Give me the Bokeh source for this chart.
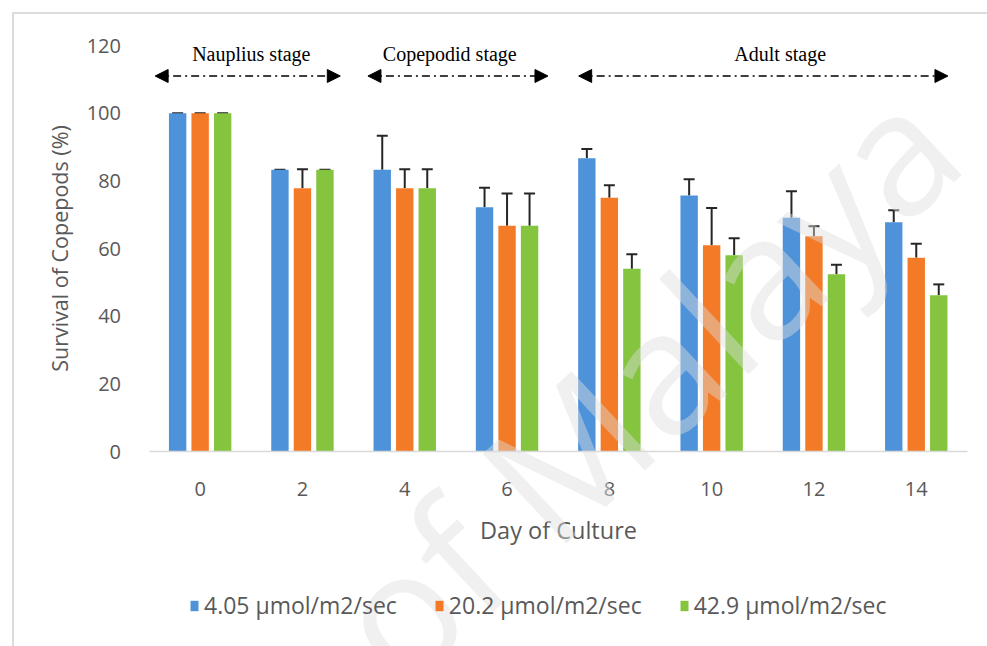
from bokeh.plotting import figure
from bokeh.models import (ColumnDataSource, FixedTicker, Legend, LegendItem, Whisker,
                          TeeHead, Arrow, NormalHead, Label)
from bokeh.core.properties import value
from bokeh.embed import file_html
from bokeh.resources import INLINE

# Survival of copepods (%) per culture day under three light intensities
days = [0, 2, 4, 6, 8, 10, 12, 14]
series_names = ["4.05 µmol/m2/sec", "20.2 µmol/m2/sec", "42.9 µmol/m2/sec"]
survival_low = [100, 83.3, 83.3, 72.2, 86.7, 75.7, 69.1, 67.8]
survival_mid = [100, 77.8, 77.8, 66.7, 75.0, 61.0, 63.6, 57.3]
survival_high = [100, 83.3, 77.8, 66.7, 54.0, 58.0, 52.4, 46.2]
error_low = [0, 0, 10.0, 5.8, 2.7, 4.8, 7.8, 3.5]
error_mid = [0, 5.6, 5.6, 9.6, 3.7, 11.0, 3.0, 4.1]
error_high = [0, 0, 5.6, 9.6, 4.3, 5.0, 2.8, 3.2]
colors = ["#4E93DA", "#F37A26", "#84C43E"]
y_ticks = [0, 20, 40, 60, 80, 100, 120]

# Developmental stages spanning the culture days (category positions)
stage_names = ["Nauplius stage", "Copepodid stage", "Adult stage"]
stage_label_x = [0.50, 2.44, 5.67]
stage_start = [-0.44, 1.64, 3.70]
stage_end = [1.37, 3.40, 7.31]

# The plot frame fills the whole canvas; both axes are pinned at fixed
# locations so the legend and the watermark can share the same space.
W, H = 973, 632
cat_px = 102.3           # pixels per day category
val_px = 3.383           # pixels per survival percent
left_px, base_px = 134.5, 437   # canvas position of category start / zero line
x_lo = -0.5 - left_px / cat_px
x_hi = x_lo + W / cat_px
y_lo = -(H - base_px) / val_px
y_hi = y_lo + H / val_px

p = figure(frame_width=W, frame_height=H, x_range=(x_lo, x_hi), y_range=(y_lo, y_hi),
           output_backend="svg", toolbar_location=None, title=None,
           min_border=0)
p.margin = (12, 0, 0, 12)
p.styles = {"border-top": "2px solid #dcdcdc", "border-left": "2px solid #dcdcdc"}
p.outline_line_color = None
p.xgrid.visible = False
p.ygrid.visible = False

offsets = [-0.22, 0.0, 0.22]
bar_w = 0.17
idx = list(range(len(days)))
items = []
for vals, errs, col, name, off in zip([survival_low, survival_mid, survival_high],
                                      [error_low, error_mid, error_high],
                                      colors, series_names, offsets):
    src = ColumnDataSource(dict(x=[i + off for i in idx], top=vals,
                                upper=[v + e for v, e in zip(vals, errs)]))
    r = p.vbar(x="x", top="top", width=bar_w, bottom=0, source=src,
               fill_color=col, line_color=None)
    p.add_layout(Whisker(source=src, base="x", lower="top", upper="upper",
                         line_color="#262626", line_width=2, lower_head=None,
                         upper_head=TeeHead(size=11, line_color="#262626", line_width=2)))
    items.append(LegendItem(label=name, renderers=[r]))

# stage labels with double-headed dash-dot arrows
for name, lx, s, e in zip(stage_names, stage_label_x, stage_start, stage_end):
    p.text(x=[lx], y=[117.5], text=[name], text_align="center",
           text_baseline="middle", text_font=value("Liberation Serif"),
           text_font_size="20px", text_color="#000000")
    p.add_layout(Arrow(x_start=s, x_end=e, y_start=111, y_end=111,
                       line_color="#000000", line_width=1.5, line_dash="8 4 2 4",
                       start=NormalHead(size=13, fill_color="#000000", line_color="#000000"),
                       end=NormalHead(size=13, fill_color="#000000", line_color="#000000")))

# faint diagonal watermark laid over the chart
p.add_layout(Label(x=7.1, y=99, text="University of Malaya", angle=0.75,
                   text_align="right", text_baseline="alphabetic",
                   text_font="Open Sans", text_font_size="172px",
                   text_color="#dddddd", text_alpha=0.45, level="overlay"))

xa = p.xaxis[0]
xa.fixed_location = 0
xa.bounds = (-0.5, 7.5)
xa.ticker = FixedTicker(ticks=idx)
xa.major_label_overrides = {i: str(d) for i, d in zip(idx, days)}
xa.axis_line_color = "#d9d9d9"
xa.axis_line_width = 1.5
xa.major_tick_line_color = None
xa.minor_tick_line_color = None
xa.major_label_text_font = "Open Sans"
xa.major_label_text_font_size = "20px"
xa.major_label_text_color = "#595959"
xa.major_label_standoff = 24
xa.axis_label = "Day of Culture"
xa.axis_label_text_font = "Open Sans"
xa.axis_label_text_font_size = "23.5px"
xa.axis_label_text_font_style = "normal"
xa.axis_label_text_color = "#595959"
xa.axis_label_standoff = 15

ya = p.yaxis[0]
ya.fixed_location = -0.5
ya.bounds = (0, 120)
ya.ticker = FixedTicker(ticks=y_ticks)
ya.axis_line_color = None
ya.major_tick_line_color = None
ya.minor_tick_line_color = None
ya.major_label_text_font = "Open Sans"
ya.major_label_text_font_size = "20px"
ya.major_label_text_color = "#595959"
ya.major_label_standoff = 22
ya.axis_label = "Survival of Copepods (%)"
ya.axis_label_text_font = "Open Sans"
ya.axis_label_text_font_size = "21.5px"
ya.axis_label_text_font_style = "normal"
ya.axis_label_text_color = "#595959"
ya.axis_label_standoff = 10

legend = Legend(items=items, orientation="horizontal", location=(175, 25),
                label_text_font="Open Sans", label_text_font_size="23px",
                label_text_color="#595959", glyph_width=10, glyph_height=13,
                label_standoff=5, spacing=37, border_line_color=None,
                background_fill_alpha=0, padding=0, margin=0)
p.add_layout(legend, "center")

open("out.html", "w").write(file_html(p, INLINE))
